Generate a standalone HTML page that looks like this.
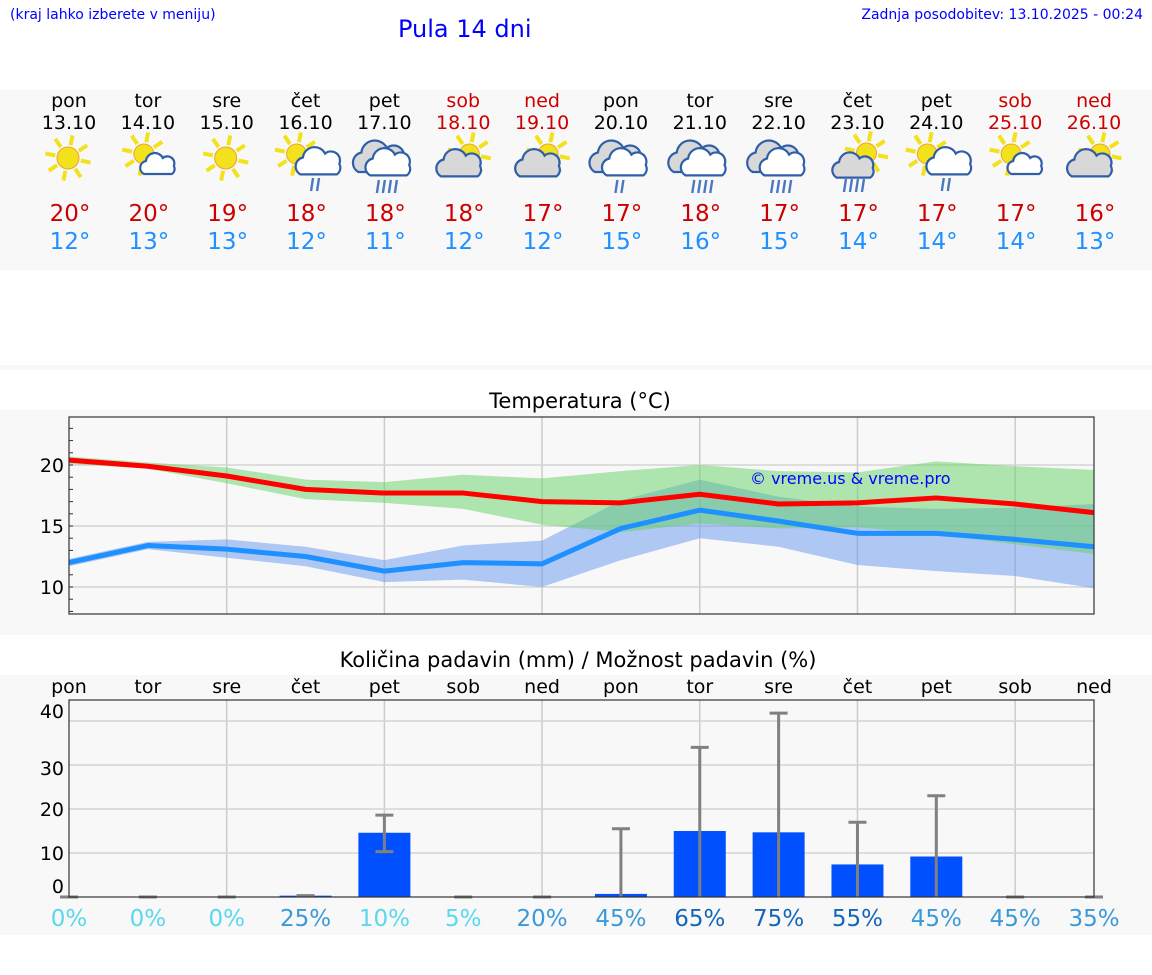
<!DOCTYPE html>
<html><head><meta charset="utf-8">
<style>
body{margin:0;width:1152px;height:975px;background:#fff;font-family:"DejaVu Sans","Liberation Sans",sans-serif;overflow:hidden;position:relative}
.t{position:absolute;white-space:nowrap}
</style></head><body>
<div class="t" style="left:10px;top:7px;font-size:14px;color:#0000ff">(kraj lahko izberete v meniju)</div>
<div class="t" style="left:398px;top:15px;font-size:24px;color:#0000ff">Pula 14 dni</div>
<div class="t" style="right:9px;top:7px;font-size:14px;color:#0000ff">Zadnja posodobitev: 13.10.2025 - 00:24</div>
<svg id="s" width="1152" height="975" style="position:absolute;left:0;top:0" font-family="DejaVu Sans, Liberation Sans, sans-serif"></svg>
<script>
const days=["pon","tor","sre","čet","pet","sob","ned","pon","tor","sre","čet","pet","sob","ned"];
const dates=["13.10","14.10","15.10","16.10","17.10","18.10","19.10","20.10","21.10","22.10","23.10","24.10","25.10","26.10"];
const icons=["sun","sunc","sun","sunrain","rain","csun","csun","rain2","rain","rain","sunheavy","sunrain","sunc","csun"];
const tMaxLbl=[20,20,19,18,18,18,17,17,18,17,17,17,17,16];
const tMinLbl=[12,13,13,12,11,12,12,15,16,15,14,14,14,13];
const tMax=[20.4,19.9,19.1,18.0,17.7,17.7,17.0,16.9,17.6,16.8,16.9,17.3,16.8,16.1];
const tMin=[12.0,13.4,13.1,12.5,11.3,12.0,11.9,14.8,16.3,15.4,14.4,14.4,13.9,13.3];
const maxHi=[20.7,20.2,19.8,18.8,18.6,19.2,18.9,19.5,20.0,19.5,19.4,20.3,19.9,19.6];
const maxLo=[20.1,19.7,18.5,17.2,16.9,16.4,15.1,14.5,15.2,14.8,14.9,14.3,13.5,12.7];
const minHi=[12.3,13.7,13.9,13.3,12.2,13.4,13.8,17.1,18.8,17.4,16.6,16.4,16.5,16.8];
const minLo=[11.7,13.1,12.4,11.7,10.4,10.6,10.0,12.2,14.0,13.3,11.8,11.3,10.9,9.9];
const tTicks=[10,15,20];
const precip=[0,0,0,0.3,14.6,0,0,0.7,15.0,14.7,7.4,9.2,0,0];
const pHi=[0,0,0,0.3,18.6,0,0,15.5,34,41.8,17,23,0,0];
const pLo=[0,0,0,0.3,10.3,0,0,0,0,0,0,0,0,0];
const pTicks=[0,10,20,30,40];
const chance=[0,0,0,25,10,5,20,45,65,75,55,45,45,35];

const S=document.getElementById('s');const NS="http://www.w3.org/2000/svg";
function el(t,a,p){const e=document.createElementNS(NS,t);for(const k in a)e.setAttribute(k,a[k]);(p||S).appendChild(e);return e;}
function tx(x,y,s,a,p){const e=el('text',Object.assign({x:x,y:y},a),p);e.textContent=s;return e;}
const X=i=>69+i*(1094-69)/13;
const TY=v=>465-(v-20)*12.2;
const PY=v=>897-v*4.4;

el('rect',{x:0,y:90,width:1152,height:180,fill:'#f8f8f8'});
el('rect',{x:0,y:365,width:1152,height:5,fill:'#f8f8f8'});
el('rect',{x:0,y:410,width:1152,height:225,fill:'#f8f8f8'});
el('rect',{x:0,y:675,width:1152,height:260,fill:'#f8f8f8'});

function sun(g,cx,cy,r){for(let k=0;k<8;k++){const a=k*Math.PI/4+0.2;el('line',{x1:cx+Math.cos(a)*(r+2),y1:cy+Math.sin(a)*(r+2),x2:cx+Math.cos(a)*(r+12),y2:cy+Math.sin(a)*(r+12),stroke:'#f2e21c','stroke-width':4},g);}
el('circle',{cx:cx,cy:cy,r:r,fill:'#f2e21c',stroke:'#f0a030','stroke-width':1},g);}
function cloud(g,cx,cy,s,fill){el('path',{d:`M${cx-14},${cy+8} a7 7 0 0 1 2,-13 a9 9 0 0 1 17,-3 a7 7 0 0 1 11,8 a6 6 0 0 1 -2,8 z`,fill:fill,stroke:'#2f5fa8','stroke-width':2.2/s,transform:`translate(${cx},${cy}) scale(${s}) translate(${-cx},${-cy})`},g);}
function rain(g,cx,cy,n){for(let k=0;k<n;k++)el('line',{x1:cx+k*6+1.5,y1:cy,x2:cx+k*6-0.5,y2:cy+13,stroke:'#4a78c0','stroke-width':2.4},g);}
function icon(i,t){const g=el('g',{});const x=X(i),y=158;
 if(t=='sun')sun(g,x-1,y,11);
 if(t=='sunc'){sun(g,x-4,y-4,10);cloud(g,x+10,y+8,1.0,'#fff');}
 if(t=='sunrain'){sun(g,x-9,y-4,10);cloud(g,x+13,y+6,1.3,'#fff');rain(g,x+6,y+20,2);}
 if(t=='rain'){cloud(g,x-5,y+2,1.5,'#d8d8d8');cloud(g,x+4,y+7,1.3,'#fff');rain(g,x-7,y+22,4);}
 if(t=='rain2'){cloud(g,x-5,y+2,1.5,'#d8d8d8');cloud(g,x+4,y+7,1.3,'#fff');rain(g,x-5,y+22,2);}
 if(t=='csun'){sun(g,x+6,y-4,10);cloud(g,x-4,y+8,1.3,'#d8d8d8');}
 if(t=='sunheavy'){sun(g,x+9,y-5,10);cloud(g,x-4,y+10,1.2,'#d8d8d8');rain(g,x-13,y+21,4);}
}
for(let i=0;i<14;i++){
 const wk=(i==5||i==6||i==12||i==13);const c=wk?'#cc0000':'#000';
 tx(X(i),107,days[i],{'font-size':19,fill:c,'text-anchor':'middle',});
 tx(X(i),129,dates[i],{'font-size':19,fill:c,'text-anchor':'middle',});
 icon(i,icons[i]);
 tx(X(i)+1,221,tMaxLbl[i]+'°',{'font-size':23,fill:'#cc0000','text-anchor':'middle',});
 tx(X(i)+1,249,tMinLbl[i]+'°',{'font-size':23,fill:'#1e90ff','text-anchor':'middle',});
}

tx(580,408,'Temperatura (°C)',{'font-size':21,fill:'#000','text-anchor':'middle',});
el('rect',{x:69,y:417,width:1025,height:197,fill:'#f8f8f8'});
for(let i=2;i<13;i+=2)el('line',{x1:X(i),y1:417,x2:X(i),y2:614,stroke:'#ccc','stroke-width':1.5});
tTicks.forEach(v=>{el('line',{x1:69,y1:TY(v),x2:1094,y2:TY(v),stroke:'#d4d4d4','stroke-width':1.5});
 tx(64,TY(v)+7,v,{'font-size':19,'text-anchor':'end',fill:'#000',});});
for(let v=8;v<=23;v++)el('line',{x1:69,y1:TY(v),x2:73,y2:TY(v),stroke:'#333','stroke-width':1});
function band(hi,lo,fill,name){let d='';hi.forEach((v,i)=>d+=(i?'L':'M')+X(i)+','+TY(v));for(let i=lo.length-1;i>=0;i--)d+='L'+X(i)+','+TY(lo[i]);
 const p=el('path',{d:d+'Z',fill:fill});}
band(minHi,minLo,'rgba(100,149,237,0.5)','min-temp-range');
band(maxHi,maxLo,'rgba(100,210,100,0.5)','max-temp-range');
function line(arr,c,name){const p=el('polyline',{points:arr.map((v,i)=>X(i)+','+TY(v)).join(' '),fill:'none',stroke:c,'stroke-width':5,'stroke-linejoin':'round'});}
line(tMin,'#1e90ff','min-temp-line');
line(tMax,'#ff0000','max-temp-line');
el('rect',{x:69,y:417,width:1025,height:197,fill:'none',stroke:'#333','stroke-width':1.2});
tx(750,484,'© vreme.us & vreme.pro',{'font-size':16,fill:'#0000ff',});

tx(578,667,'Količina padavin (mm) / Možnost padavin (%)',{'font-size':21,fill:'#000','text-anchor':'middle',});
for(let i=0;i<14;i++)tx(X(i),693,days[i],{'font-size':19,fill:'#000','text-anchor':'middle',});
el('rect',{x:69,y:700,width:1025,height:197,fill:'#f8f8f8'});
for(let i=2;i<13;i+=2)el('line',{x1:X(i),y1:700,x2:X(i),y2:897,stroke:'#ccc','stroke-width':1.5});
const pLblOff={0:-11,10:0,20:0,30:3,40:-10};
pTicks.forEach(v=>{if(v>0)el('line',{x1:69,y1:PY(v),x2:1094,y2:PY(v),stroke:'#d4d4d4','stroke-width':1.5});
 tx(64,PY(v)+7+pLblOff[v],v,{'font-size':19,'text-anchor':'end',fill:'#000',});});
precip.forEach((v,i)=>{const r=el('rect',{x:X(i)-26,y:PY(v),width:52,height:PY(0)-PY(v),fill:'#0050ff'});
 
 const g=el('g',{stroke:'#808080','stroke-width':3});
 
 el('line',{x1:X(i),y1:PY(pHi[i]),x2:X(i),y2:PY(pLo[i])},g);
 el('line',{x1:X(i)-9,y1:PY(pHi[i]),x2:X(i)+9,y2:PY(pHi[i])},g);
 if(pLo[i]>0.5)el('line',{x1:X(i)-9,y1:PY(pLo[i]),x2:X(i)+9,y2:PY(pLo[i])},g);});
el('rect',{x:69,y:700,width:1025,height:197,fill:'none',stroke:'#333','stroke-width':1.2});
chance.forEach((v,i)=>{const c=v>=50?'#1565b8':(v>=20?'#3a9ad8':'#5ad8ee');
 tx(X(i),926,v+'%',{'font-size':23,fill:c,'text-anchor':'middle',});});
</script>
</body></html>
